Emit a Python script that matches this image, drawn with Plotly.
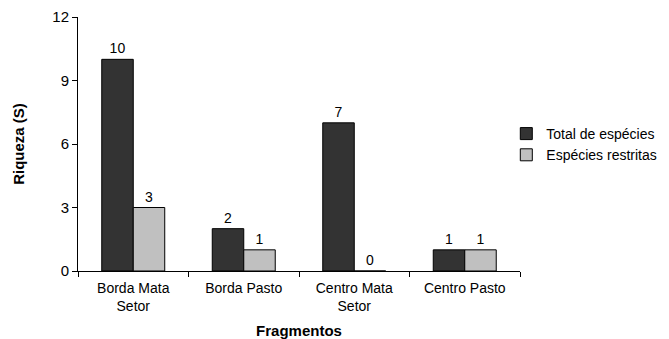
import plotly.graph_objects as go

categories = ["Borda Mata<br>Setor", "Borda Pasto", "Centro Mata<br>Setor", "Centro Pasto"]
total_especies = [10, 2, 7, 1]
especies_restritas = [3, 1, 0, 1]
y_ticks = [0, 3, 6, 9, 12]

font = "Liberation Sans, Arial, sans-serif"
txtfont = dict(color="#000000", size=14, family=font)

fig = go.Figure()
fig.add_trace(go.Bar(
    x=categories, y=total_especies, name="Total de espécies",
    marker=dict(color="#333333", line=dict(color="#000000", width=1)),
    text=[str(v) for v in total_especies], textposition="outside",
    textfont=txtfont, outsidetextfont=txtfont, insidetextfont=txtfont,
    cliponaxis=False,
))
fig.add_trace(go.Bar(
    x=categories, y=especies_restritas, name="Espécies restritas",
    marker=dict(color="#c0c0c0", line=dict(color="#000000", width=1)),
    text=[str(v) for v in especies_restritas], textposition="outside",
    textfont=txtfont, outsidetextfont=txtfont, insidetextfont=txtfont,
    cliponaxis=False,
))

fig.update_layout(
    width=669, height=339,
    margin=dict(l=78, r=149, t=17, b=68, autoexpand=False),
    paper_bgcolor="white", plot_bgcolor="white",
    barmode="group", bargap=0.43, bargroupgap=0,
    font=dict(family=font, size=14, color="#000000"),
    showlegend=True,
    legend=dict(x=0.969, y=0.498, xanchor="left", yanchor="middle",
                font=dict(size=14), itemwidth=30, tracegroupgap=0,
                bgcolor="rgba(0,0,0,0)"),
    xaxis=dict(
        showline=True, linecolor="#000000", linewidth=1,
        ticks="outside", tickson="boundaries", ticklen=5, tickcolor="#000000",
        range=[-0.5, 3.5], automargin=False, ticklabelstandoff=4,
        title=dict(text="<b>Fragmentos</b>", font=dict(size=15), standoff=16),
        tickfont=dict(size=14),
    ),
    yaxis=dict(
        range=[0, 12], tickvals=y_ticks, ticktext=[str(v) for v in y_ticks],
        showline=True, linecolor="#000000", linewidth=1,
        ticks="outside", ticklen=5, tickcolor="#000000",
        showgrid=False, zeroline=False, automargin=False,
        title=dict(text="<b>Riqueza (S)</b>", font=dict(size=15), standoff=24),
        tickfont=dict(size=15),
    ),
)

fig.write_html("out.html", config={"displayModeBar": False},
               post_script="document.body.style.margin='0';document.body.style.overflow='hidden';")
